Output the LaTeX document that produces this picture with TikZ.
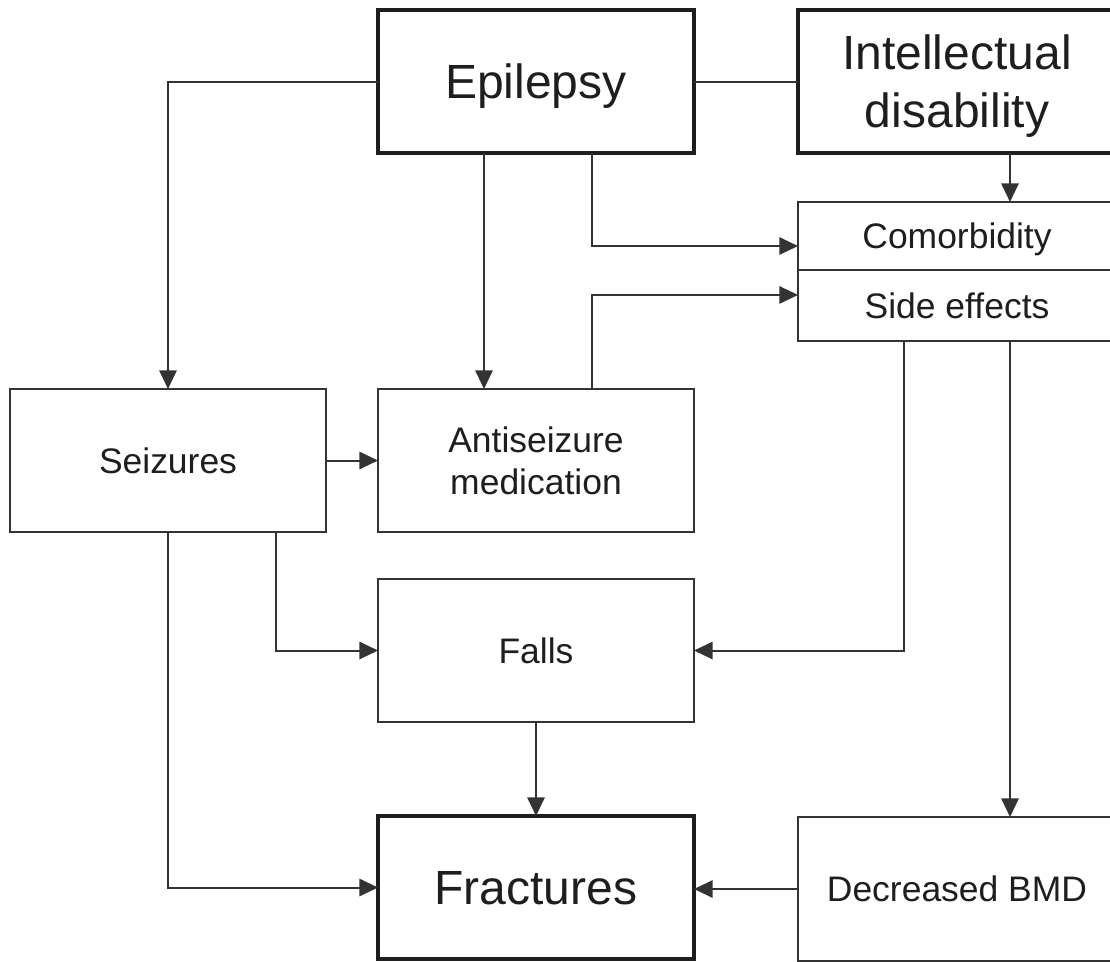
\documentclass[tikz,border=0pt]{standalone}
\usepackage{fontspec}
\setmainfont{Liberation Sans}
\usetikzlibrary{arrows.meta,calc}
\definecolor{ln}{HTML}{333333}
\definecolor{tx}{HTML}{1E1E1E}
\begin{document}
\begin{tikzpicture}[x=0.75pt,y=-0.75pt,
  thinbox/.style={draw=ln,line width=1.5pt,rectangle,inner sep=0pt,outer sep=0pt,text=tx,align=center,
    text depth=0pt,font=\fontsize{26.6}{31.5}\selectfont},
  thickbox/.style={draw=tx,line width=2.6pt,rectangle,inner sep=0pt,outer sep=0pt,text=tx,align=center,
    text depth=0pt,font=\fontsize{36}{43.5}\selectfont},
  conn/.style={draw=ln,line width=1.5pt},
  arr/.style={conn,-{Triangle[length=14pt,width=13pt]}}]
\useasboundingbox (0,0) rectangle (1110,961);
\begin{scope}
\clip (0,0) rectangle (1110,961);
\node[thickbox,minimum width=237pt,minimum height=107.25pt] (epi) at (536,81.5) {Epilepsy};
\node[thickbox,minimum width=238.5pt,minimum height=107.25pt] (id) at (957,81.5) {Intellectual\\disability};
\node[thinbox,minimum width=238.5pt,minimum height=51pt] (comorb) at (957,236) {Comorbidity};
\node[thinbox,minimum width=238.5pt,minimum height=53.25pt] (side) at (957,305.5) {Side effects};
\node[thinbox,minimum width=237pt,minimum height=107.25pt] (seiz) at (168,460.5) {Seizures};
\node[thinbox,minimum width=237pt,minimum height=107.25pt] (asm) at (536,460.5) {Antiseizure\\medication};
\node[thinbox,minimum width=237pt,minimum height=107.25pt] (falls) at (536,650.5) {Falls};
\node[thickbox,minimum width=237pt,minimum height=107.25pt] (frac) at (536,887.5) {Fractures};
\node[thinbox,minimum width=238.5pt,minimum height=108pt] (bmd) at (957,889) {Decreased BMD};

\draw[arr] (epi.west) -| (seiz.north);
\draw[conn] (epi.east) -- (id.west);
\draw[arr] ([xshift=-39pt]epi.south) -- ([xshift=-39pt]asm.north);
\draw[arr] ([xshift=42pt]epi.south) |- ([yshift=-7.5pt]comorb.west);
\draw[arr] ([xshift=39.75pt]id.south) -- ([xshift=39.75pt]comorb.north);
\draw[arr] ([xshift=42pt]asm.north) |- ([yshift=7.9pt]side.west);
\draw[arr] (seiz.east) -- (asm.west);
\draw[arr] ([xshift=81pt]seiz.south) |- (falls.west);
\draw[arr] (seiz.south) |- (frac.west);
\draw[arr] ([xshift=-39.75pt]side.south) |- (falls.east);
\draw[arr] ([xshift=39.75pt]side.south) -- ([xshift=39.75pt]bmd.north);
\draw[arr] (falls.south) -- (frac.north);
\draw[arr] (bmd.west) -- (frac.east |- bmd.west);
\end{scope}
\end{tikzpicture}
\end{document}
